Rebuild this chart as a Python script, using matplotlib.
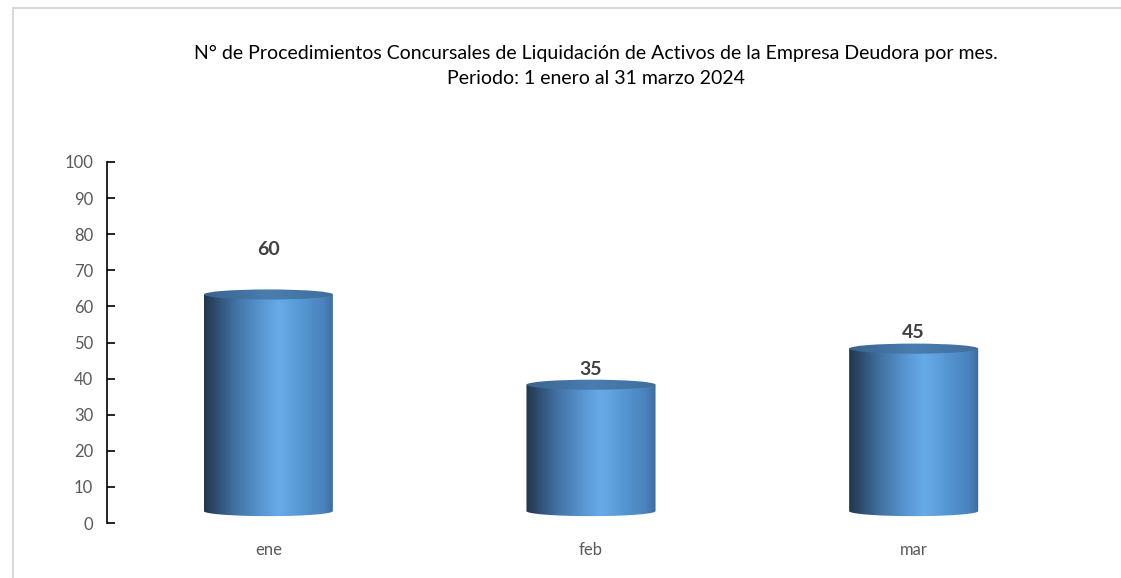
import numpy as np
import matplotlib
matplotlib.use("Agg")
from matplotlib import pyplot as plt
from matplotlib.colors import LinearSegmentedColormap
from matplotlib.path import Path
from matplotlib.patches import Ellipse
from matplotlib.lines import Line2D

months = ["ene", "feb", "mar"]
counts = [60, 35, 45]
y_ticks = list(range(0, 101, 10))
title = ("N° de Procedimientos Concursales de Liquidación de Activos de la Empresa Deudora por mes.\n"
         "Periodo: 1 enero al 31 marzo 2024")

plt.rcParams['font.family'] = ['Lato', 'DejaVu Sans']

# side shading of the cylinders, left to right
body_cmap = LinearSegmentedColormap.from_list("body", [
    (0.0, "#22364d"), (0.1, "#2f4f72"), (0.25, "#4474a6"), (0.45, "#5a98d4"),
    (0.58, "#66abe8"), (0.75, "#5597d3"), (0.92, "#4a83bd"), (1.0, "#3e6d9c")])
top_cmap = LinearSegmentedColormap.from_list("top", [
    (0.0, "#3a648f"), (0.5, "#4a7db0"), (1.0, "#3f6e9c")])

BAR_W = 0.4
LIFT = 3.3      # perspective lift of the 3D bars
CAP_H = 2.8     # height of the ellipse caps in data units
label_pad = [10, 2, 2]


def draw_cylinder(ax, xc, value):
    x0, x1 = xc - BAR_W / 2, xc + BAR_W / 2
    yb, yt = LIFT, value + LIFT
    t = np.linspace(np.pi, 2 * np.pi, 60)
    arc_x = xc + BAR_W / 2 * np.cos(t)
    arc_y = yb + CAP_H / 2 * np.sin(t)
    verts = [(x0, yt), (x0, yb)] + list(zip(arc_x, arc_y)) + [(x1, yt), (x0, yt)]
    clip = Path(verts, closed=True)
    grad = np.linspace(0, 1, 256).reshape(1, -1)
    im = ax.imshow(grad, cmap=body_cmap, aspect="auto", interpolation="bicubic",
                   extent=[x0, x1, yb - CAP_H, yt], zorder=2)
    im.set_clip_path(clip, transform=ax.transData)
    cap = Ellipse((xc, yt), BAR_W, CAP_H, facecolor="none", edgecolor="none")
    ax.add_patch(cap)
    im2 = ax.imshow(grad, cmap=top_cmap, aspect="auto", interpolation="bicubic",
                    extent=[x0, x1, yt - CAP_H / 2, yt + CAP_H / 2], zorder=3)
    im2.set_clip_path(cap)


fig = plt.figure(figsize=(11.21, 5.78), dpi=100)
ax = fig.add_axes([107 / 1121, 55 / 578, 968 / 1121, 361 / 578])

for i, v in enumerate(counts):
    draw_cylinder(ax, i, v)
    ax.text(i, v + LIFT + label_pad[i], str(v), ha="center", va="bottom",
            fontsize=14, fontweight="bold", color="#404040")

ax.set_xlim(-0.5, len(months) - 0.5)
ax.set_ylim(0, 100)
ax.set_yticks(y_ticks)
ax.set_xticks(range(len(months)))
ax.set_xticklabels(months)
ax.tick_params(axis="y", direction="in", length=6, width=1.2, colors="black",
               labelcolor="#595959", labelsize=12, pad=10)
ax.tick_params(axis="x", length=0, labelcolor="#595959", labelsize=12, pad=14)
for s in ["top", "right", "bottom"]:
    ax.spines[s].set_visible(False)
ax.spines["left"].set_linewidth(1.2)

fig.text(596 / 1121, 1 - 45 / 578, title, ha="center", va="top", fontsize=14,
         linespacing=1.6, color="black")

# chart frame
fig.add_artist(Line2D([13 / 1121, 1], [1 - 8 / 578] * 2, color="#d9d9d9", lw=1.5))
fig.add_artist(Line2D([13 / 1121] * 2, [0, 1 - 8 / 578], color="#d9d9d9", lw=1.5))

fig.savefig("out.png", dpi=100)
